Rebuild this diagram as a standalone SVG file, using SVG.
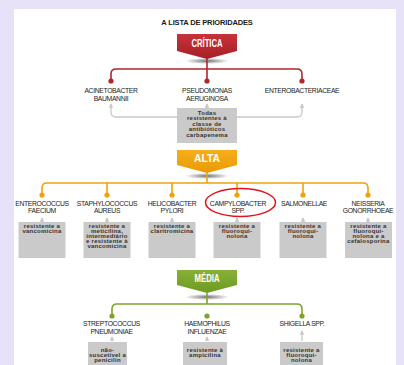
<svg xmlns="http://www.w3.org/2000/svg" width="404" height="365" viewBox="0 0 404 365">
<defs>
<style>
.title{font-family:"Liberation Sans",Arial,sans-serif;font-weight:bold;font-size:7.5px;letter-spacing:-0.15px;fill:#1a1a1a;text-anchor:middle}
.ban{font-family:"Liberation Sans",Arial,sans-serif;font-weight:bold;font-size:11px;fill:#fff;text-anchor:middle}
.lbl{font-family:"Liberation Sans",Arial,sans-serif;font-size:6.8px;letter-spacing:-0.35px;fill:#222;text-anchor:middle}
.box{fill:#cacaca}
.bt{font-family:"Liberation Sans",Arial,sans-serif;font-weight:bold;font-size:6px;letter-spacing:0.25px;fill:#333;text-anchor:middle}
.red{stroke:#b3262d;stroke-width:1.6;fill:none}
.org{stroke:#f0a20c;stroke-width:1.6;fill:none}
.grn{stroke:#7aa52a;stroke-width:1.6;fill:none}
.gry{stroke:#c8c8c8;stroke-width:1.3;fill:none}
</style>
<linearGradient id="gR" x1="0" y1="0" x2="0" y2="1"><stop offset="0" stop-color="#c8323a"/><stop offset="1" stop-color="#a51f27"/></linearGradient>
<linearGradient id="gO" x1="0" y1="0" x2="0" y2="1"><stop offset="0" stop-color="#f6ae1a"/><stop offset="1" stop-color="#e89a05"/></linearGradient>
<linearGradient id="gG" x1="0" y1="0" x2="0" y2="1"><stop offset="0" stop-color="#86b036"/><stop offset="1" stop-color="#6f9a22"/></linearGradient>
<radialGradient id="sh"><stop offset="0" stop-color="#000" stop-opacity="0.55"/><stop offset="1" stop-color="#000" stop-opacity="0"/></radialGradient>
<marker id="ah" viewBox="0 0 6 6" refX="5" refY="3" markerWidth="4.5" markerHeight="4.5" orient="auto-start-reverse" markerUnits="userSpaceOnUse"><path d="M0,0 L6,3 L0,6 Z" fill="#c8c8c8"/></marker>
</defs>
<rect width="404" height="365" fill="#e8e2f8"/>
<rect x="14" y="9" width="382" height="356" fill="#fff"/>
<text class="title" x="207" y="25">A LISTA DE PRIORIDADES</text>

<g id="connectors">
<ellipse cx="207" cy="61" rx="22" ry="3" fill="url(#sh)"/>
<ellipse cx="207" cy="176" rx="22" ry="3" fill="url(#sh)"/>
<ellipse cx="207" cy="297" rx="22" ry="3" fill="url(#sh)"/>
<path class="red" d="M207,58 V81 M111,81 V74 Q111,69 116,69 H297 Q302,69 302,74 V81"/>
<circle cx="111" cy="81" r="2.6" fill="#b3262d"/><circle cx="207" cy="81" r="2.6" fill="#b3262d"/><circle cx="302" cy="81" r="2.6" fill="#b3262d"/>
<path class="gry" d="M111,104 V112 Q111,117 116,117 H177"  marker-start="url(#ah)"/>
<path class="gry" d="M237,117 H297 Q302,117 302,112 V104" marker-end="url(#ah)"/>
<path class="gry" d="M207,108 V104" marker-end="url(#ah)"/>
<path class="org" d="M207,172 V183 M42,195 V188 Q42,183 47,183 H363 Q368,183 368,188 V195 M107,183 V195 M172,183 V195 M237,183 V195 M303,183 V195"/>
<g fill="#f0a20c"><circle cx="42" cy="195" r="2.6"/><circle cx="107" cy="195" r="2.6"/><circle cx="172" cy="195" r="2.6"/><circle cx="237" cy="195" r="2.6"/><circle cx="303" cy="195" r="2.6"/><circle cx="368" cy="195" r="2.6"/></g>
<g class="gry" marker-end="url(#ah)"><path d="M42,222 V218"/><path d="M107,222 V218"/><path d="M172,222 V218"/><path d="M237,222 V218"/><path d="M303,222 V218"/><path d="M368,222 V218"/></g>
<path class="grn" d="M207,293 V304 M112,316 V309 Q112,304 117,304 H297 Q302,304 302,309 V316"/>
<g fill="#7aa52a"><circle cx="112" cy="316" r="2.6"/><circle cx="207" cy="316" r="2.6"/><circle cx="302" cy="316" r="2.6"/></g>
<g class="gry" marker-end="url(#ah)"><path d="M112,341 V337"/><path d="M207,341 V337"/><path d="M302,341 V331"/></g>
</g>

<g id="critica"><path d="M177,34 H237 V51 L207,59 L177,51 Z" fill="url(#gR)"/><text class="ban" x="207" y="47" textLength="31" lengthAdjust="spacingAndGlyphs">CRÍTICA</text></g>
<g id="alta"><path d="M177,150 H237 V165 L207,173 L177,165 Z" fill="url(#gO)"/><text class="ban" x="207" y="162" textLength="26" lengthAdjust="spacingAndGlyphs">ALTA</text></g>
<g id="media"><path d="M177,270 H237 V285 L207,293 L177,285 Z" fill="url(#gG)"/><text class="ban" x="207" y="282" textLength="25" lengthAdjust="spacingAndGlyphs">MÉDIA</text></g>

<g id="acinetobacter"><text class="lbl" x="111" y="92.5">ACINETOBACTER</text><text class="lbl" x="111" y="100.5">BAUMANNII</text></g>
<g id="pseudomonas"><text class="lbl" x="207" y="92.5">PSEUDOMONAS</text><text class="lbl" x="207" y="100.5">AERUGINOSA</text></g>
<g id="enterobacteriaceae"><text class="lbl" x="302" y="92.5">ENTEROBACTERIACEAE</text></g>
<g id="box-carbapenema"><rect class="box" x="177" y="108" width="60" height="35"/>
<text class="bt" x="207" y="114.5">Todas</text><text class="bt" x="207" y="120">resistentes à</text><text class="bt" x="207" y="125.5">classe de</text><text class="bt" x="207" y="131">antibióticos</text><text class="bt" x="207" y="136.5">carbapenema</text></g>

<g id="enterococcus"><text class="lbl" x="42" y="205.5">ENTEROCOCCUS</text><text class="lbl" x="42" y="213">FAECIUM</text>
<rect class="box" x="18.5" y="222" width="47" height="36"/><text class="bt" x="42" y="228">resistente a</text><text class="bt" x="42" y="233">vancomicina</text></g>
<g id="staphylococcus"><text class="lbl" x="107" y="205.5">STAPHYLOCOCCUS</text><text class="lbl" x="107" y="213">AUREUS</text>
<rect class="box" x="83.5" y="222" width="47" height="36"/><text class="bt" x="107" y="228">resistente a</text><text class="bt" x="107" y="233">meticilina,</text><text class="bt" x="107" y="238">intermediário</text><text class="bt" x="107" y="243">e resistente à</text><text class="bt" x="107" y="248">vancomicina</text></g>
<g id="helicobacter"><text class="lbl" x="172" y="205.5">HELICOBACTER</text><text class="lbl" x="172" y="213">PYLORI</text>
<rect class="box" x="148.5" y="222" width="47" height="36"/><text class="bt" x="172" y="228">resistente a</text><text class="bt" x="172" y="233">claritromicina</text></g>
<g id="campylobacter"><text class="lbl" x="238" y="205.5">CAMPYLOBACTER</text><text class="lbl" x="238" y="213">SPP.</text>
<ellipse cx="240.5" cy="202.5" rx="35" ry="14" fill="none" stroke="#e3141b" stroke-width="1.5"/>
<rect class="box" x="213.5" y="222" width="47" height="36"/><text class="bt" x="237" y="228">resistente a</text><text class="bt" x="237" y="233">fluoroqui-</text><text class="bt" x="237" y="238">nolona</text></g>
<g id="salmonellae"><text class="lbl" x="304" y="205.5">SALMONELLAE</text>
<rect class="box" x="279.5" y="222" width="47" height="36"/><text class="bt" x="303" y="228">resistente a</text><text class="bt" x="303" y="233">fluoroqui-</text><text class="bt" x="303" y="238">nolona</text></g>
<g id="neisseria"><text class="lbl" x="368" y="205.5">NEISSERIA</text><text class="lbl" x="368" y="213">GONORRHOEAE</text>
<rect class="box" x="345" y="222" width="47" height="36"/><text class="bt" x="368.5" y="228">resistente a</text><text class="bt" x="368.5" y="233">fluoroqui-</text><text class="bt" x="368.5" y="238">nolona e a</text><text class="bt" x="368.5" y="243">cefalosporina</text></g>

<g id="streptococcus"><text class="lbl" x="111.5" y="326">STREPTOCOCCUS</text><text class="lbl" x="111.5" y="334">PNEUMONIAE</text>
<rect class="box" x="88" y="342" width="39" height="23"/><text class="bt" x="107.5" y="352">não-</text><text class="bt" x="107.5" y="357">suscetível a</text><text class="bt" x="107.5" y="362">penicilin</text></g>
<g id="haemophilus"><text class="lbl" x="207" y="326">HAEMOPHILUS</text><text class="lbl" x="207" y="334">INFLUENZAE</text>
<rect class="box" x="183" y="342" width="44" height="23"/><text class="bt" x="205" y="352">resistente à</text><text class="bt" x="205" y="357">ampicilina</text></g>
<g id="shigella"><text class="lbl" x="302" y="326">SHIGELLA SPP.</text>
<rect class="box" x="280" y="342" width="43" height="23"/><text class="bt" x="301.5" y="352">resistente a</text><text class="bt" x="301.5" y="357">fluoroqui-</text><text class="bt" x="301.5" y="362">nolona</text></g>
</svg>
